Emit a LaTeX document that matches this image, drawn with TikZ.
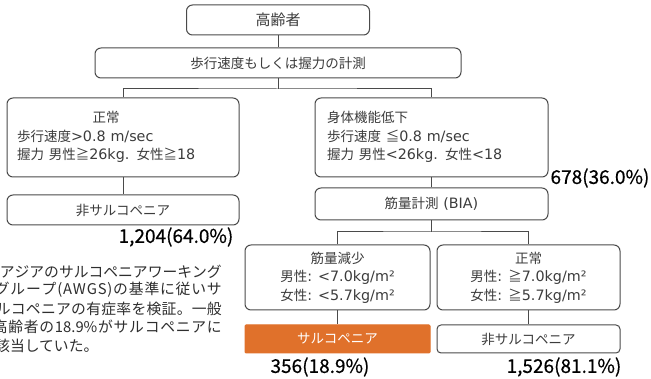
\documentclass[tikz,border=0pt]{standalone}
\usepackage{fontspec}
\setmainfont{DejaVu Sans}[Scale=1.06]
\newfontfamily\jp{Noto Sans CJK JP}
\newfontfamily\lbl[FakeBold=0.5]{Noto Sans CJK JP}
\newcommand\J[1]{{\jp #1}}
\def\spreadline#1{\spA#1\relax}
\def\spA#1{#1\spB}
\def\spB#1{\ifx#1\relax\else\hfil#1\expandafter\spB\fi}
\newcommand\pline[2]{\makebox[#1][s]{\spreadline{#2}}}
\definecolor{bord}{HTML}{4A4A4A}
\definecolor{btxt}{HTML}{3C3C3C}
\definecolor{orng}{HTML}{E0712B}
\definecolor{ptxt}{HTML}{2E2E2E}
\begin{document}
\begin{tikzpicture}[x=1pt,y=-1pt,
 box/.style={draw=bord, line width=1pt, rounded corners=6pt, fill=white, text=btxt, inner sep=0pt, font=\fontsize{13.5}{18.5}\selectfont},
 cnt/.style={draw=bord, line width=1pt},
 lab/.style={font=\lbl\fontsize{19}{22}\selectfont, text=black, inner sep=0pt},
 para/.style={font=\jp\fontsize{14.8}{18.7}\selectfont, text=ptxt, inner sep=0pt}]
\useasboundingbox (0,0) rectangle (651,379);
\fill[white] (0,0) rectangle (651,379);

\node[box, minimum width=183pt, minimum height=30pt, font=\fontsize{15}{18}\selectfont] (top) at (278,20) {\J{高齢者}};
\node[box, minimum width=366pt, minimum height=30pt] (meas) at (278,63) {\J{歩行速度もしくは握力の計測}};
\node[box, minimum height=79pt, text width=212pt, align=left, inner xsep=10pt] (normL) at (123,137.5)
 {\begin{tabular}{@{}l@{}}\multicolumn{1}{@{}c@{}}{\J{正常}}\\\J{歩行速度}>0.8 m/sec\\\J{握力} \J{男性≧}26kg. \J{女性≧}18\end{tabular}};
\node[box, minimum height=79pt, text width=209pt, align=left, inner xsep=12pt] (lowR) at (431.5,137.5)
 {\begin{tabular}{@{}l@{}}\J{身体機能低下}\\\J{歩行速度} \J{≦}0.8 m/sec\\\J{握力} \J{男性}<26kg. \J{女性}<18\end{tabular}};
\node[box, minimum width=232pt, minimum height=30pt] (nonL) at (123,210) {\J{非サルコペニア}};
\node[box, minimum width=233pt, minimum height=32pt] (bia) at (431.5,204) {\J{筋量計測} (BIA)};
\node[box, minimum width=185pt, minimum height=65pt, align=center] (musL) at (337.5,277.5)
 {\J{筋量減少}\\\J{男性}: <7.0kg/m²\\\J{女性}: <5.7kg/m²};
\node[box, minimum width=183pt, minimum height=65pt, align=center] (musR) at (528.5,277.5)
 {\J{正常}\\\J{男性}: \J{≧}7.0kg/m²\\\J{女性}: \J{≧}5.7kg/m²};
\node[box, fill=orng, draw=orng, rounded corners=1pt, text=white, minimum width=185pt, minimum height=28pt] (sarco) at (337.5,339) {\J{サルコペニア}};
\node[box, rounded corners=4pt, minimum width=183pt, minimum height=28pt] (nonR) at (528.5,339) {\J{非サルコペニア}};

\node[lab] (l1) at (176,237) {1,204(64.0\%)};
\node[lab] (l2) at (600,178) {678(36.0\%)};
\node[lab] (l3) at (320,367) {356(18.9\%)};
\node[lab] (l4) at (564,367) {1,526(81.1\%)};

\coordinate (brA) at (278,89);
\coordinate (brB) at (431.5,232);
\draw[cnt] (top) -- (meas);
\draw[cnt] (meas.south) -- (brA);
\draw[cnt] (normL.north) |- (brA) -| (lowR.north);
\draw[cnt] (normL) -- (nonL);
\draw[cnt] (lowR) -- (bia);
\draw[cnt] (bia.south) -- (brB);
\draw[cnt] (musL.north) |- (brB) -| (musR.north);
\draw[cnt] (musL) -- (sarco);
\draw[cnt] (musR) -- (nonR);

\node[para, anchor=east] (p1) at (222,272) {\pline{222pt}{アジアのサルコペニアワーキング}};
\node[para, anchor=east] (p2) at (222,290) {\pline{227pt}{グループ(AWGS)の基準に従いサ}};
\node[para, anchor=east] (p3) at (222,308.5) {\pline{226pt}{ルコペニアの有症率を検証。一般}};
\node[para, anchor=east] (p4) at (222,327) {\pline{229pt}{高齢者の{18.9\%}がサルコペニアに}};
\node[para, anchor=west] (p5) at (-5,346) {該当していた。};
\end{tikzpicture}
\end{document}
